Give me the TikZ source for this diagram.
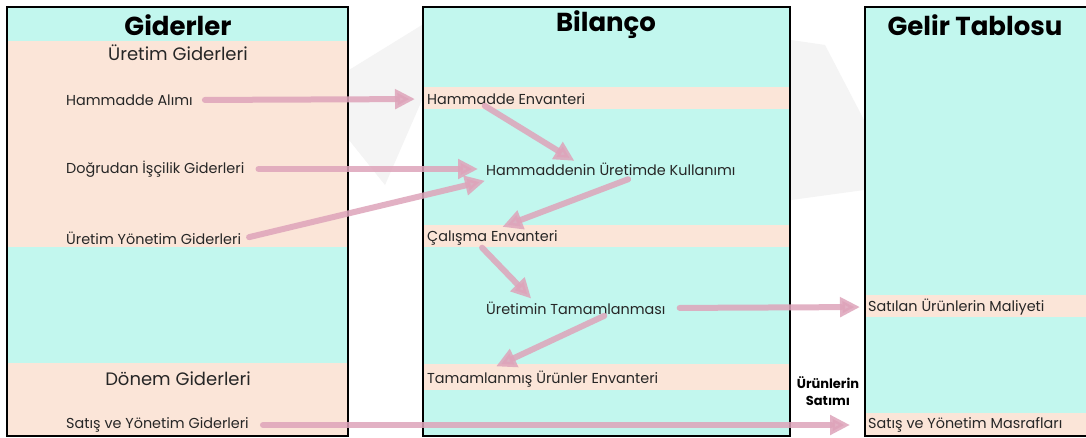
\documentclass[tikz,border=0pt]{standalone}
\usepackage{fontspec}
\setmainfont{Poppins}
\usetikzlibrary{arrows.meta,calc}
\definecolor{cyanbg}{RGB}{194,247,238}
\definecolor{peachbg}{RGB}{251,229,216}
\definecolor{pinkar}{RGB}{222,164,186}
\definecolor{wmgray}{RGB}{244,244,244}
\tikzset{
  lbl/.style={anchor=west,inner sep=0pt,font=\fontsize{14.4}{16}\selectfont,text=black!85},
  sub/.style={inner sep=0pt,font=\fontsize{18}{20}\selectfont,text=black!85},
  ttl/.style={inner sep=0pt,font=\fontsize{26}{28}\selectfont\bfseries},
  flow/.style={draw=pinkar,opacity=0.85,line width=6pt,-{Triangle[length=20pt,width=19pt]},line cap=round},
  boxline/.style={draw=black,line width=2.5pt}
}
\begin{document}
\begin{tikzpicture}[x=1pt,y=-1pt]
\useasboundingbox (0,0) rectangle (1086,437);
\fill[white] (0,0) rectangle (1086,437);
% faint watermark shapes
\fill[wmgray] (349,70) -- (422,25) -- (422,100) -- (385,185) -- (349,140) -- cycle;
\fill[wmgray] (791,40) -- (825,45) -- (864,120) -- (864,190) -- (791,200) -- cycle;
% left box
\fill[peachbg] (7,7) rectangle (348,436);
\fill[cyanbg] (7,7) rectangle (348,41);
\fill[cyanbg] (7,247) rectangle (348,363);
\draw[draw=black,line width=1.8pt] (7,7) rectangle (348,436);
% middle box
\fill[cyanbg] (423,7) rectangle (790,436);
\fill[peachbg] (423,87) rectangle (790,109);
\fill[peachbg] (423,225) rectangle (790,247);
\fill[peachbg] (423,364) rectangle (790,390);
\draw[boxline] (423,7) rectangle (790,436);
% right box
\fill[cyanbg] (865,7) rectangle (1086,436);
\fill[peachbg] (865,295) rectangle (1086,317);
\fill[peachbg] (865,413) rectangle (1086,436);
\draw[boxline] (1090,7) -- (865,7) -- (865,436) -- (1090,436);
% titles
\node[ttl] (tg) at (178,25) {Giderler};
\node[ttl] (tb) at (606,25) {Bilanço};
\node[ttl] (tt) at (975,25) {Gelir Tablosu};
% left texts
\node[sub] (ug) at (178,53) {Üretim Giderleri};
\node[lbl] (hal) at (66,100) {Hammadde Alımı};
\node[lbl] (dis) at (66,169) {Doğrudan İşçilik Giderleri};
\node[lbl] (uyg) at (66,238) {Üretim Yönetim Giderleri};
\node[sub] (dg) at (178,379) {Dönem Giderleri};
\node[lbl] (syg) at (66,425) {Satış ve Yönetim Giderleri};
% middle texts
\node[lbl] (henv) at (427,99) {Hammadde Envanteri};
\node[lbl] (kul) at (486,169) {Hammaddenin Üretimde Kullanımı};
\node[lbl] (cal) at (427,238) {Çalışma Envanteri};
\node[lbl] (tam) at (486,308) {Üretimin Tamamlanması};
\node[lbl] (tue) at (427,379) {Tamamlanmış Ürünler Envanteri};
% right texts
\node[lbl] (sat) at (868,307) {Satılan Ürünlerin Maliyeti};
\node[lbl] (sym) at (868,425) {Satış ve Yönetim Masrafları};
\node[inner sep=0pt,align=center,font=\fontsize{13}{17}\selectfont\bfseries] (us) at (828,391) {Ürünlerin\\Satımı};
% arrows
\draw[flow,shorten <=12pt,shorten >=12pt] (hal.east) -- (henv.west);
\draw[flow,shorten <=2pt,shorten >=3pt] ($(henv.south west)+(56,0)$) -- ($(kul.north west)+(91,0)$);
\draw[flow,shorten <=14pt,shorten >=8pt] (dis.east) -- (kul.west);
\draw[flow,shorten <=8pt,shorten >=1pt] ($(uyg.east)+(0,1)$) -- ($(kul.south west)+(0,5)$);
\draw[flow,shorten <=2pt,shorten >=10pt] ($(kul.south west)+(144,3)$) -- ($(cal.north west)+(66,0)$);
\draw[flow,shorten <=3pt,shorten >=4pt] ($(cal.south west)+(53,0)$) -- ($(tam.north west)+(48,0)$);
\draw[flow,shorten <=3pt,shorten >=10pt] ($(tam.south west)+(121,0)$) -- ($(tue.north west)+(60,0)$);
\draw[flow,shorten <=14pt,shorten >=8pt] (tam.east) -- (sat.west);
\draw[flow,shorten <=14pt,shorten >=18pt] (syg.east) -- (sym.west);
\end{tikzpicture}
\end{document}
